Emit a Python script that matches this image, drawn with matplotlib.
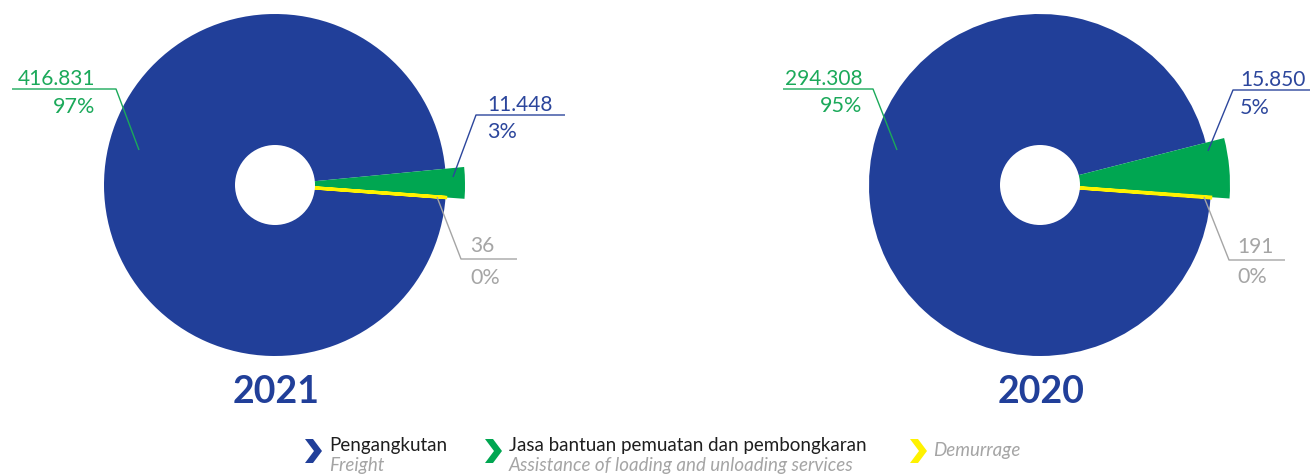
import matplotlib
matplotlib.use("Agg")
import matplotlib.pyplot as plt
from matplotlib.patches import Polygon, Circle

# ---- data ----
years = ["2021", "2020"]
categories_id = ["Pengangkutan", "Jasa bantuan pemuatan dan pembongkaran", "Demurrage"]
categories_en = ["Freight", "Assistance of loading and unloading services", ""]
values_2021 = [416831, 11448, 36]
values_2020 = [294308, 15850, 191]

BLUE = "#213F99"
GREEN = "#00A651"
YELLOW = "#FFF200"
GREEN_TXT = "#1BA95A"
BLUE_TXT = "#2C469C"
GRAY_TXT = "#A5A5A5"

W, H = 1310, 474
fig = plt.figure(figsize=(W / 100, H / 100), dpi=100)
ax = fig.add_axes([0, 0, 1, 1])


def Y(py):
    return H - py


def fmt(v):
    return f"{v:,}".replace(",", ".")


charts = [
    dict(vals=values_2021, cx=275, cy=185, start=-4.2,
         fl=dict(line=[(12, 89), (116, 89), (139, 150)], x=95, y1=85, y2=113),
         al=dict(line=[(565, 115), (476, 115), (453, 177)], x=487, y1=111, y2=138),
         dl=dict(line=[(517, 259), (461, 259), (437, 197)], x=470, y1=252, y2=284)),
    dict(vals=values_2020, cx=1040, cy=185, start=-4.3,
         fl=dict(line=[(783, 89), (873, 89), (897, 150)], x=862, y1=85, y2=112),
         al=dict(line=[(1310, 90), (1233, 90), (1208, 151)], x=1240, y1=86, y2=114),
         dl=dict(line=[(1285, 260), (1229, 260), (1204, 197)], x=1237, y1=253, y2=283)),
]

R = 171
R_GREEN = 190
R_HOLE = 40
num_font = "Lato"
NUM_FS = 15

for year, c in zip(years, charts):
    vals = c["vals"]
    total = sum(vals)
    pcts = [round(v / total * 100) for v in vals]
    # counterclockwise order: demurrage, assistance, freight
    order = [2, 1, 0]
    wedges, _ = ax.pie([vals[i] for i in order], colors=[[BLUE, GREEN, YELLOW][i] for i in order],
                       startangle=c["start"], counterclock=True, radius=R,
                       center=(c["cx"], Y(c["cy"])), frame=True,
                       wedgeprops=dict(linewidth=0))
    wedges[0].set_edgecolor(YELLOW)
    wedges[0].set_linewidth(2.4)
    wedges[0].set_zorder(3)
    wedges[1].set_radius(R_GREEN)
    wedges[1].set_zorder(2)
    ax.add_patch(Circle((c["cx"], Y(c["cy"])), R_HOLE, facecolor="white", edgecolor="none", zorder=5))

    # leader lines and labels
    for key, idx, col, ha in [("fl", 0, GREEN_TXT, "right"), ("al", 1, BLUE_TXT, "left"),
                               ("dl", 2, GRAY_TXT, "left")]:
        lab = c[key]
        xs = [p[0] for p in lab["line"]]
        ys = [Y(p[1]) for p in lab["line"]]
        ax.plot(xs, ys, color=col, lw=1.0, zorder=6, solid_capstyle="butt")
        ax.text(lab["x"], Y(lab["y1"]), fmt(vals[idx]), color=col, fontsize=NUM_FS,
                family=num_font, ha=ha, va="baseline", zorder=7)
        ax.text(lab["x"], Y(lab["y2"]), f"{pcts[idx]}%", color=col, fontsize=NUM_FS + 0.5,
                family=num_font, ha=ha, va="baseline", zorder=7)

    ax.text(c["cx"] + 1, Y(403), year, color=BLUE, fontsize=27, family=num_font,
            fontweight="bold", ha="center", va="baseline")

# ---- legend ----
leg_cols = [BLUE, GREEN, YELLOW]
leg_x = [305, 485, 910]
LEG_FS = 13.5


def chevron(x0, y0, col):
    w, h, t = 17, 24, 8
    pts = [(x0, y0), (x0 + t, y0), (x0 + w, y0 + h / 2), (x0 + t, y0 + h),
           (x0, y0 + h), (x0 + w - t, y0 + h / 2)]
    ax.add_patch(Polygon([(px, Y(py)) for px, py in pts], closed=True,
                         facecolor=col, edgecolor="none"))


for i, (col, x0) in enumerate(zip(leg_cols, leg_x)):
    chevron(x0, 439, col)
    if categories_en[i]:
        ax.text(x0 + 24, Y(451), categories_id[i], color="#1E1E1E", fontsize=LEG_FS,
                family="Lato", ha="left", va="baseline")
        ax.text(x0 + 24, Y(471), categories_en[i], color=GRAY_TXT, fontsize=LEG_FS,
                family="Lato", style="italic", ha="left", va="baseline")
    else:
        ax.text(x0 + 23, Y(456), categories_id[i], color=GRAY_TXT, fontsize=LEG_FS,
                family="Lato", style="italic", ha="left", va="baseline")

ax.set_xlim(0, W)
ax.set_ylim(0, H)
ax.set_aspect("equal")
ax.axis("off")
fig.savefig("out.png", dpi=100)
